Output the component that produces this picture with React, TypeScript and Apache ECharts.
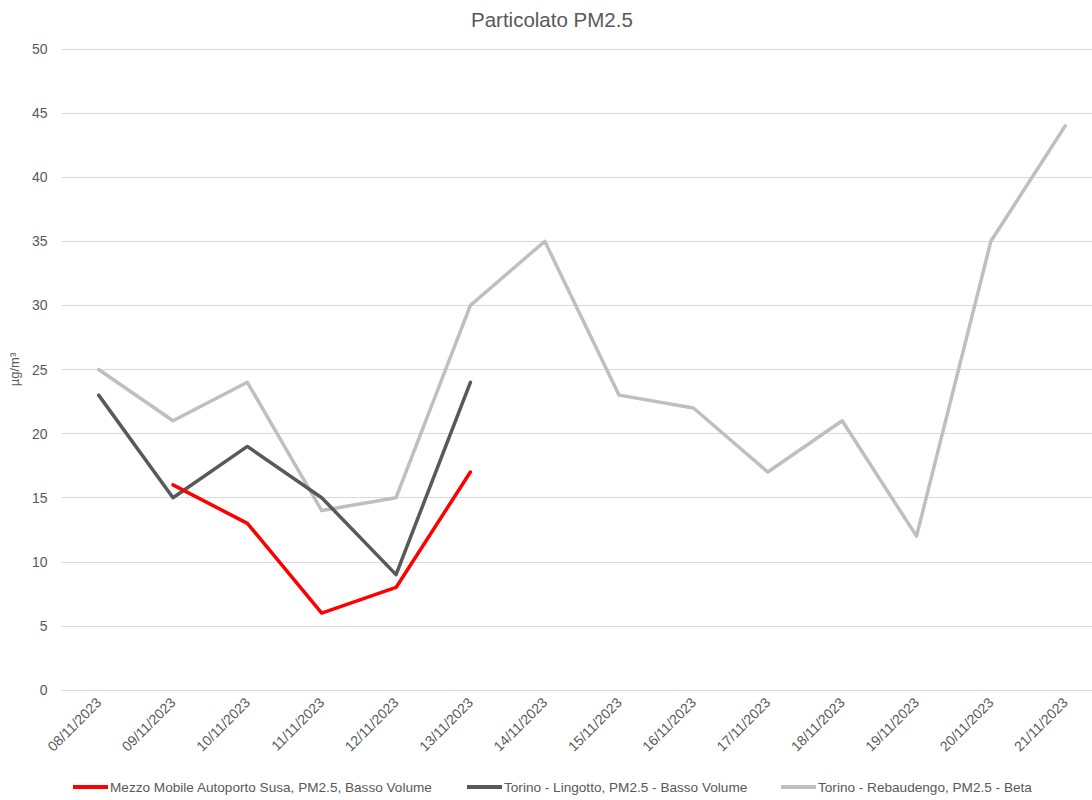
import React, { useEffect, useRef } from "react";
import * as echarts from "echarts";

const categories = [
  "08/11/2023", "09/11/2023", "10/11/2023", "11/11/2023", "12/11/2023",
  "13/11/2023", "14/11/2023", "15/11/2023", "16/11/2023", "17/11/2023",
  "18/11/2023", "19/11/2023", "20/11/2023", "21/11/2023",
];
const susa = [null, 16, 13, 6, 8, 17, null, null, null, null, null, null, null, null];
const lingotto = [23, 15, 19, 15, 9, 24, null, null, null, null, null, null, null, null];
const rebaudengo = [25, 21, 24, 14, 15, 30, 35, 23, 22, 17, 21, 12, 35, 44];
const seriesNames = [
  "Mezzo Mobile Autoporto Susa, PM2.5, Basso Volume",
  "Torino - Lingotto, PM2.5 - Basso Volume",
  "Torino - Rebaudengo, PM2.5 - Beta",
];
const colors = ["#FF0000", "#595959", "#BFBFBF"];
const legendLefts = [73, 467, 781];

const FONT = "Liberation Sans";

export default function App() {
  const ref = useRef<HTMLDivElement>(null);
  useEffect(() => {
    if (!ref.current) return;
    const chart = echarts.init(ref.current, undefined, { renderer: "svg" });
    const values = [susa, lingotto, rebaudengo];
    chart.setOption({
      animation: false,
      textStyle: { fontFamily: FONT },
      title: {
        text: "Particolato PM2.5",
        left: 466,
        top: 4,
        textStyle: { fontFamily: FONT, fontSize: 20.5, fontWeight: "normal", color: "#595959" },
      },
      legend: seriesNames.map((n, i) => ({
        data: [n],
        left: legendLefts[i],
        top: 780,
        padding: 0,
        icon: "rect",
        itemWidth: 35,
        itemHeight: 4,
        itemGap: 0,
        textStyle: { fontFamily: FONT, fontSize: 13.6, color: "#595959", padding: [0, 0, 0, -3] },
      })),
      grid: { left: 60, right: 7.6, top: 49, height: 641 },
      xAxis: {
        type: "category",
        data: categories,
        boundaryGap: true,
        axisLine: { show: false },
        axisTick: { show: false },
        axisLabel: {
          rotate: 45,
          color: "#595959",
          fontSize: 14,
          fontFamily: FONT,
          margin: 10,
          interval: 0,
        },
      },
      yAxis: {
        type: "value",
        min: 0,
        max: 50,
        interval: 5,
        name: "µg/m³",
        nameLocation: "middle",
        nameRotate: 90,
        nameGap: 37,
        nameTextStyle: { color: "#595959", fontSize: 13, fontFamily: FONT },
        axisLine: { show: false },
        axisTick: { show: false },
        axisLabel: { color: "#595959", fontSize: 14, fontFamily: FONT, margin: 14 },
        splitLine: { lineStyle: { color: "#D9D9D9", width: 1 } },
      },
      series: seriesNames.map((n, i) => ({
        name: n,
        type: "line",
        data: values[i],
        symbol: "none",
        connectNulls: false,
        z: 10 - i,
        itemStyle: { color: colors[i] },
        lineStyle: { color: colors[i], width: 3.5, cap: "round", join: "round" },
      })),
    });
    return () => chart.dispose();
  }, []);
  return (
    <div
      style={{ position: "absolute", left: 0, top: 0, width: 1092, height: 800, overflow: "hidden", background: "#fff" }}
    >
      <div ref={ref} style={{ width: 1110, height: 800 }} />
    </div>
  );
}
